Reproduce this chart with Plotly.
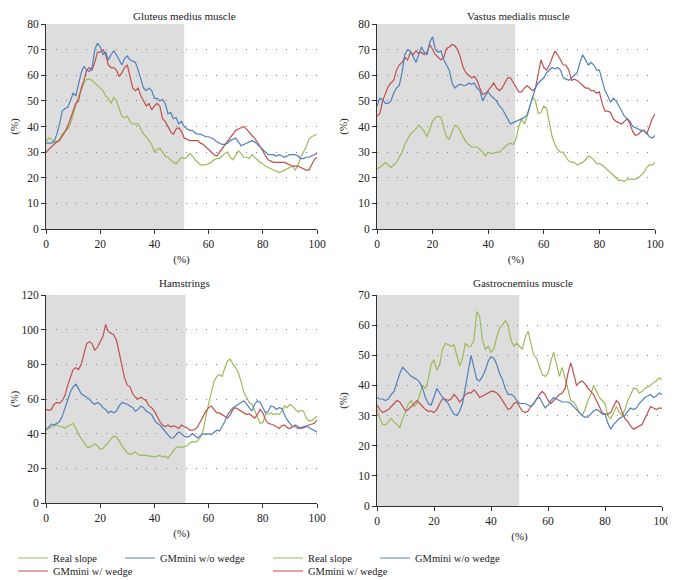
import plotly.graph_objects as go

# x axis: gait cycle (%)
x_pct = list(range(101))

# Gluteus medius muscle
glut_real = [34, 35.5, 35, 34, 34, 35, 37, 38, 39, 41, 45, 49, 52, 54, 57, 58.5, 58.5, 58, 57, 56,
             55, 54, 52, 51, 49, 51.5, 50, 47, 44, 43.5, 44, 42, 41, 41, 41, 39, 37, 36, 34.5, 33,
             30, 31, 31.5, 30, 28.5, 28, 27, 26, 25.5, 27, 28, 27.5, 28, 29.5, 28.5, 27, 26, 25, 25, 25,
             25.5, 26, 27, 27.5, 27.5, 28.5, 29.5, 30, 28, 27, 28.5, 30.5, 29.5, 28, 28, 27.5, 29, 28, 27, 26,
             25.5, 24.5, 24, 23.5, 23, 22.5, 22, 22.5, 23, 23.5, 24, 24.5, 23, 25, 28, 30, 32, 35, 36, 36.5, 37]
glut_with = [30, 31, 32, 33, 34, 34.5, 36, 38, 40, 43, 46, 49, 50, 55, 58, 62, 63, 62, 65, 69,
             69, 70, 68, 64, 63, 63, 62, 59.5, 61, 63, 64, 60, 55, 54, 55, 52, 50, 48, 49, 46.5,
             48, 49, 48, 43, 42, 40, 38, 37, 39, 39.5, 38, 35.5, 35, 34.5, 34.5, 34.5, 34.5, 33.5, 33, 32,
             31, 30, 29, 28.5, 30, 31.5, 33, 34.5, 36, 37.5, 38.5, 39, 39.5, 40, 39, 37.5, 36.5, 35.5, 34, 32,
             30.5, 28.5, 27, 26.5, 26, 26, 26, 26, 26, 25.5, 25, 24.5, 24.5, 24.5, 24, 23.5, 23, 23, 25, 27, 28]
glut_without = [33.5, 33.5, 33.5, 34, 37, 41, 46, 47, 47.5, 50, 53, 52, 56, 61, 63.5, 62, 61.5, 63, 70, 72.5,
                71, 68, 69, 66, 68, 69.5, 68, 66, 64, 66.5, 67.5, 66, 65.5, 65, 62, 58, 55, 54, 55, 54,
                51, 51, 50, 50.5, 49, 45, 45.5, 43, 43.5, 41, 42, 40, 39, 38.5, 38.5, 37.5, 37, 37, 36.5, 36,
                36, 35.5, 35, 34, 33.5, 33, 33, 33.5, 34.5, 35, 35.5, 34, 32.5, 33, 33.5, 34, 34.5, 34, 33, 32,
                31, 30, 29, 29, 29, 28.5, 29, 28.5, 28, 28.5, 29, 29, 29, 28.5, 27.5, 27.5, 28, 28, 28.5, 29, 29.5]

# Vastus medialis muscle
vast_real = [23.5, 24, 25, 26, 25, 24, 25, 26, 28, 30, 33, 35, 37, 38, 39, 40.5, 39.5, 38, 36, 39,
             42, 43.5, 44, 43.5, 40, 36, 35, 38, 40.5, 40, 38, 36, 34, 33, 32, 32, 32, 31, 30, 28.5,
             30, 29.5, 29.5, 30, 30, 31, 32, 33, 33.5, 33, 35, 40, 43, 41, 44, 48, 51.5, 50, 45, 45.5,
             48, 47, 42, 36, 33, 31, 30, 30, 28, 26.5, 26, 26, 25, 25.5, 26, 27, 28.5, 28, 27, 25.5,
             25.5, 25, 24, 23, 22, 21, 20, 19, 19, 18.5, 19.5, 19.5, 19.5, 19.5, 20, 21, 22, 24, 25, 25, 26]
vast_with = [44, 45, 50, 53, 55.5, 57, 58, 62, 64, 65, 67, 66, 69, 68, 69.5, 68.5, 69, 68, 69, 72,
             70, 68, 67, 66, 67, 70.5, 71, 72, 71.5, 70, 67, 63, 61, 60, 59, 59.5, 58, 55, 52.5, 53,
             54, 55.5, 57, 55, 54, 55, 57, 59, 59, 57, 55, 53.5, 53.5, 55, 56, 55, 54, 55, 60, 66,
             63, 62, 64, 67, 69.5, 68, 66, 64, 64, 62, 58, 58.5, 58, 57, 56, 55, 55, 54, 54, 53,
             53.5, 49, 46, 46, 45.5, 43, 42, 41.5, 41, 42, 43, 41, 38, 36.5, 37, 38, 38.5, 37, 40, 43, 45]
vast_without = [48, 51, 50.5, 49, 49, 50, 53, 55, 56, 61, 68, 70, 69.5, 67, 65, 68, 71, 69, 68, 73,
                75, 70, 69, 69.5, 66, 64, 62, 57, 55, 56, 56.5, 56, 56, 57, 56.5, 57, 55, 54, 50, 52,
                53.5, 52, 51, 50, 48, 47, 45, 43, 41, 41.5, 42, 42.5, 43, 43.5, 44.5, 48, 52, 55, 57, 58,
                59, 61, 62, 63, 62.5, 63, 62, 59, 58.5, 58, 59, 60, 61, 65, 68, 66, 64, 65, 64, 62,
                62, 58, 54, 52, 49.5, 51, 50, 48, 46, 44, 43, 42, 40, 39.5, 39, 38.5, 38.5, 37.5, 36, 35.5, 36.5]

# Hamstrings
ham_real = [43, 43, 44, 44.5, 45, 44, 44, 43, 44.5, 45, 46, 43, 40, 37, 35, 32.5, 32, 33, 34, 33,
            31, 31.5, 33, 35, 37, 38.5, 38, 36, 33, 31, 29, 28, 29, 29.5, 28, 27.5, 27.5, 27.5, 27, 27,
            26.5, 27, 27.5, 26.5, 27, 26, 28, 30.5, 32, 32.5, 32, 32.5, 33, 34.5, 35.5, 35, 36, 38, 42, 50,
            58, 64, 70, 73, 74, 73, 78, 82, 83, 80, 78, 75, 70, 64, 61, 58, 57, 53, 49, 46,
            46.5, 51, 51.5, 52, 51, 51.5, 51, 53, 56, 55, 57, 56, 54, 52.5, 53.5, 53, 49, 47.5, 47.5, 48.5, 50]
ham_with = [54, 53.5, 54, 57, 58, 57.5, 59, 62, 68, 73, 77, 78, 77, 80, 86, 92, 93, 92, 88, 90,
            93, 96, 103, 99, 98, 97, 94, 86, 79, 72, 68, 67, 63, 61, 60, 61, 60, 59, 56, 55,
            53, 50, 47, 45, 44, 45, 44, 44.5, 44, 43, 45, 44, 43.5, 42, 42, 42.5, 44, 47, 50, 53,
            55, 56, 54, 52, 52, 51, 50, 49, 51, 54, 55, 54, 53, 52, 51, 51.5, 50, 49, 51, 54,
            52, 48, 46, 45.5, 45, 44, 43, 44.5, 45, 43.5, 43, 44, 45, 44, 43, 43.5, 44, 45, 45.5, 46, 48]
ham_without = [42, 44, 45.5, 45, 46, 47, 50, 55, 60, 64, 67, 68.5, 66, 63, 62, 61, 60, 58, 57, 58,
               57, 55, 54, 52, 53, 52, 53, 56, 58, 57.5, 57, 56, 55, 53, 54, 56, 55, 53, 52, 51,
               48, 46, 45, 43, 41, 39, 37.5, 37.5, 39, 41, 40, 38.5, 38, 38.5, 40, 38.5, 37.5, 39, 40, 39.5,
               40, 39.5, 41, 42, 41.5, 44, 47, 51, 53, 55, 56, 57, 58, 59, 57, 55, 53, 57, 59, 58,
               55, 52, 53, 56, 55.5, 54, 55, 54.5, 51, 48, 46, 44, 44, 43, 43.5, 44, 44.5, 43.5, 42.5, 41.5, 41]

# Gastrocnemius muscle
gas_real = [32, 29, 27, 27, 28, 29, 28, 27, 26, 29, 31, 34, 35, 33, 34, 37, 40, 39, 42, 47,
            48.5, 45, 47, 52, 54, 53.5, 53, 53.5, 50, 46.5, 49, 54, 53, 53, 55, 64.5, 63, 55, 52, 53,
            51, 52, 56, 59, 60, 61.5, 60, 55, 53, 54, 53, 52, 56, 58, 54, 50, 49, 46, 43.5, 43,
            44, 48, 51, 47, 43, 46, 42, 38, 35, 34.5, 33, 31, 30, 32, 35, 37, 40, 38, 36, 35,
            34, 30, 29, 31, 33, 31, 30, 32, 35, 37, 39, 39, 37.5, 38, 39, 39.5, 40, 41, 41.5, 42.5, 42]
gas_with = [33.5, 32, 31, 31.5, 32, 33, 34, 35, 34.5, 33, 31.5, 32, 33, 34, 35, 34, 33, 32, 31.5, 31.5,
            31, 32, 34, 35.5, 35.5, 35, 35.5, 37, 36, 34.5, 35.5, 37, 37.5, 37.5, 38.5, 37.5, 36, 36.5, 37, 37.5,
            38, 38, 37.5, 36.5, 35, 33.5, 32, 32.5, 34, 34.5, 33, 31.5, 31, 31.5, 33, 34, 35.5, 37, 38, 37,
            35, 34, 35, 36, 37, 37.5, 39, 44, 47.5, 44, 40, 41, 41.5, 40.5, 39, 38, 37, 35, 33, 31,
            30.5, 30.5, 31, 33, 35, 34, 31, 29, 28, 26.5, 25.5, 26, 26.5, 27, 29, 31, 33, 32.5, 32, 32.5, 32.5]
gas_without = [36, 35.5, 35.5, 35, 35.5, 37, 38, 41, 44, 46, 45, 44, 43, 42.5, 42, 41, 39, 36, 34, 33.5,
               36, 39, 37.5, 36, 35, 34, 32, 30.5, 30, 31.5, 34, 39, 45, 50, 46, 42, 41.5, 43, 45, 48,
               49.5, 49, 47, 44, 42, 39, 37, 37, 36.5, 35, 34, 34, 34, 33.5, 33, 34, 35.5, 36, 34, 32.5,
               33.5, 35, 36, 35.5, 35, 34.5, 34.5, 34.5, 34, 33, 32, 31, 30, 29.5, 29.5, 30.5, 31.5, 32, 31.5, 30.5,
               30.5, 27.5, 25.5, 27, 28, 29, 29.5, 30, 31.5, 32.5, 32, 32.5, 34, 35, 36, 36.5, 37, 36, 36.5, 37.5, 37]

panel_titles = ["Gluteus medius muscle", "Vastus medialis muscle", "Hamstrings", "Gastrocnemius muscle"]
series_names = ["Real slope", "GMmini w/ wedge", "GMmini w/o wedge"]
shade_end = [51, 49.7, 51.5, 49.9]
y_max = [80, 80, 120, 70]
y_step = [10, 10, 20, 10]

GREEN = "#9BBB59"
RED = "#C0504D"
BLUE = "#4F81BD"
FONT = "Liberation Serif"

# page body has an 8px margin, so the figure starts at (8, 8) on the page
OFF = 8
W, H = 676 - OFF, 580 - OFF


def fx(px):
    return (px - OFF) / W


def fy(py):
    return 1 - (py - OFF) / H


# plot areas in page pixels: (left, right, top, bottom)
areas = [(46, 317, 24, 229), (377, 655, 24, 229), (46, 317, 295, 503), (377, 662, 295, 506)]

panels = [
    (glut_real, glut_with, glut_without),
    (vast_real, vast_with, vast_without),
    (ham_real, ham_with, ham_without),
    (gas_real, gas_with, gas_without),
]

# one legend per legend entry: left column legends come from panel 3, right from panel 4
legend_ids = {
    (2, 0): "legend", (2, 2): "legend2", (2, 1): "legend3",
    (3, 0): "legend4", (3, 2): "legend5", (3, 1): "legend6",
}

fig = go.Figure()
for p, series in enumerate(panels):
    ax = "" if p == 0 else str(p + 1)
    for s, (vals, col) in enumerate(zip(series, [GREEN, RED, BLUE])):
        lg = legend_ids.get((p, s))
        fig.add_trace(go.Scatter(
            x=x_pct, y=vals, mode="lines", name=series_names[s],
            line=dict(color=col, width=1.2),
            xaxis="x" + ax, yaxis="y" + ax,
            showlegend=lg is not None, legend=lg if lg else "legend",
        ))

layout = dict(
    width=W, height=H,
    margin=dict(l=0, r=0, t=0, b=0, autoexpand=False),
    paper_bgcolor="white", plot_bgcolor="white",
    font=dict(family=FONT, size=11, color="#222"),
    showlegend=True,
)

annotations = []
shapes = []
for p, (l, r, t, b) in enumerate(areas):
    ax = "" if p == 0 else str(p + 1)
    layout["xaxis" + ax] = dict(
        domain=[fx(l), fx(r)], anchor="y" + ax, range=[0, 100], tickvals=[0, 20, 40, 60, 80, 100],
        showgrid=False, zeroline=False, showline=True, linecolor="#333", linewidth=1,
        ticks="outside", ticklen=4, tickcolor="#333", automargin=False,
        tickfont=dict(family=FONT, size=11.5, color="#222"),
        title=dict(text="(%)", font=dict(family=FONT, size=11, color="#222"), standoff=6),
    )
    layout["yaxis" + ax] = dict(
        domain=[fy(b), fy(t)], anchor="x" + ax, range=[0, y_max[p]], dtick=y_step[p],
        showgrid=True, gridcolor="#808080", griddash="1px,9px", gridwidth=1,
        zeroline=False, showline=True, linecolor="#333", linewidth=1,
        ticks="outside", ticklen=4, tickcolor="#333", automargin=False,
        tickfont=dict(family=FONT, size=11.5, color="#222"),
        title=dict(text="(%)", font=dict(family=FONT, size=11, color="#222"), standoff=8),
    )
    shapes.append(dict(
        type="rect", xref="x" + ax, yref="y" + ax + " domain",
        x0=0, x1=shade_end[p], y0=0, y1=1,
        fillcolor="#DDDDDD", line=dict(width=0), layer="below",
    ))
    # titles sit just above each plot area (top row kept inside the figure edge)
    annotations.append(dict(
        text=panel_titles[p], xref="paper", yref="paper",
        x=fx((l + r) / 2 + 3), y=min(fy(t - 20), 1.0), xanchor="center", yanchor="top",
        showarrow=False, font=dict(family=FONT, size=11, color="#222"),
    ))

layout["annotations"] = annotations
layout["shapes"] = shapes

# legend positions in page pixels: left edge x, row center y
leg_pos = {
    "legend": (13, 558), "legend2": (120, 558), "legend3": (13, 571),
    "legend4": (268, 558), "legend5": (375, 558), "legend6": (268, 571),
}
for name, (lx, ly) in leg_pos.items():
    layout[name] = dict(
        x=fx(lx), y=fy(ly), xanchor="left", yanchor="middle",
        bgcolor="rgba(0,0,0,0)", font=dict(family=FONT, size=10.5, color="#222"),
        orientation="h",
    )

fig.update_layout(**layout)
fig.write_html("out.html")
